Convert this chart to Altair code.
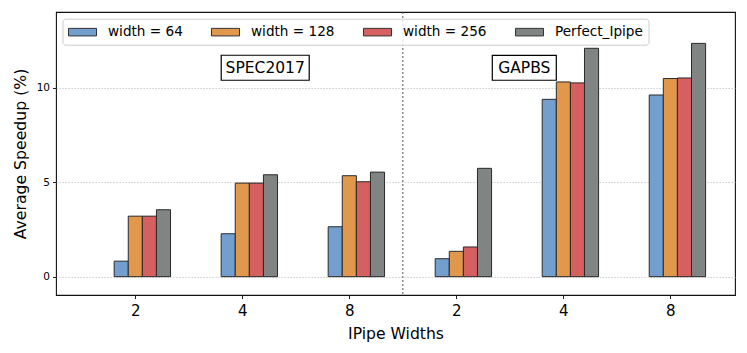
import altair as alt
import pandas as pd
import json

# ---- data ----
group_labels = ["2", "4", "8", "2", "4", "8"]
series_names = ["width = 64", "width = 128", "width = 256", "Perfect_Ipipe"]
w64 = [0.82, 2.27, 2.64, 0.95, 9.38, 9.61]
w128 = [3.20, 4.95, 5.34, 1.34, 10.30, 10.48]
w256 = [3.20, 4.95, 5.02, 1.57, 10.25, 10.51]
perfect = [3.54, 5.39, 5.53, 5.73, 12.08, 12.34]
colors = ["#739fcf", "#e1974c", "#d65f60", "#808583"]

suite_names = ["SPEC2017", "GAPBS"]
suite_x = [1.214, 3.635]
suite_y = [11.05, 11.05]
divider = [2.5]

BAR_W = 0.1317

rows = []
for k, (name, vals) in enumerate(zip(series_names, [w64, w128, w256, perfect])):
    for g, v in enumerate(vals):
        rows.append({"g": g, "k": k, "series": name, "value": v})
df = pd.DataFrame(rows)

FONT = "DejaVu Sans"
xscale = alt.Scale(domain=[-0.741, 5.604], nice=False, zero=False)
yscale = alt.Scale(domain=[-0.97, 14.0], nice=False, zero=False)

label_expr = json.dumps(group_labels) + "[datum.value]"

bars = alt.Chart(df).transform_calculate(
    x0=f"datum.g + (datum.k - 1.5) * {BAR_W}",
    x1=f"datum.g + (datum.k - 0.5) * {BAR_W}",
).mark_bar(stroke="#2a2a2a", strokeWidth=1, opacity=1).encode(
    x=alt.X("x0:Q", scale=xscale,
            axis=alt.Axis(values=list(range(len(group_labels))), labelExpr=label_expr,
                          title="IPipe Widths", grid=False, domain=False,
                          tickSize=3.5, tickColor="#222", labelPadding=5,
                          labelFontSize=15, labelColor="black", labelFont=FONT,
                          titleFontSize=15.6, titleFont=FONT, titleFontWeight="normal",
                          titleColor="black", titlePadding=8)),
    x2="x1:Q",
    y=alt.Y("value:Q", scale=yscale,
            axis=alt.Axis(values=[0, 5, 10], format="d", title="Average Speedup (%)",
                          grid=True, gridDash=[1.2, 1.8], gridColor="#b0b0b0", gridWidth=0.8,
                          domain=False, tickSize=3.5, tickColor="#222", labelPadding=3,
                          labelFontSize=10.5, labelColor="black", labelFont=FONT,
                          titleFontSize=15.7, titleFont=FONT, titleFontWeight="normal",
                          titleColor="black", titlePadding=8)),
    y2=alt.datum(0),
    color=alt.Color("series:N", scale=alt.Scale(domain=series_names, range=colors),
                    sort=series_names,
                    legend=alt.Legend(title=None, orient="none", legendX=6.5, legendY=6.7,
                                      direction="horizontal", columns=4,
                                      symbolType="M-1,-0.54L3,-0.54L3,0.54L-1,0.54Z",
                                      symbolSize=196, symbolStrokeColor="#333",
                                      symbolStrokeWidth=1, symbolOpacity=1,
                                      labelFontSize=13.6, labelFont=FONT, labelColor="black",
                                      labelOffset=25, columnPadding=26, padding=5.5,
                                      fillColor="rgba(255,255,255,0.8)", strokeColor="#cccccc",
                                      cornerRadius=3, labelLimit=300)),
)

rule = alt.Chart(pd.DataFrame({"pos": divider})).mark_rule(
    color="#555555", strokeDash=[2, 2], strokeWidth=1
).encode(x=alt.X("pos:Q", scale=xscale))

ann = pd.DataFrame({"name": suite_names, "x": suite_x, "y": suite_y})

box_spec = alt.Chart(ann[ann["name"] == "SPEC2017"]).mark_point(
    shape="M-1,-0.284L1,-0.284L1,0.284L-1,0.284Z", size=7744, filled=True,
    fill="white", stroke="black", strokeWidth=1.2, opacity=1
).encode(x=alt.X("x:Q", scale=xscale), y=alt.Y("y:Q", scale=yscale))

box_gap = alt.Chart(ann[ann["name"] == "GAPBS"]).mark_point(
    shape="M-1,-0.39L1,-0.39L1,0.39L-1,0.39Z", size=4096, filled=True,
    fill="white", stroke="black", strokeWidth=1.2, opacity=1
).encode(x=alt.X("x:Q", scale=xscale), y=alt.Y("y:Q", scale=yscale))

texts = alt.Chart(ann).mark_text(
    font=FONT, fontSize=15.5, color="black", baseline="middle", align="center"
).encode(x=alt.X("x:Q", scale=xscale), y=alt.Y("y:Q", scale=yscale), text="name:N")

chart = alt.layer(rule, bars, box_spec, box_gap, texts).properties(
    width=679, height=283,
    autosize=alt.AutoSizeParams(type="none"),
    padding={"left": 48, "top": 4, "right": 4, "bottom": 50},
    background="white",
).configure_view(stroke="#111111", strokeWidth=1.1)

chart.save("out.html", embed_options={"renderer": "svg", "actions": False})
